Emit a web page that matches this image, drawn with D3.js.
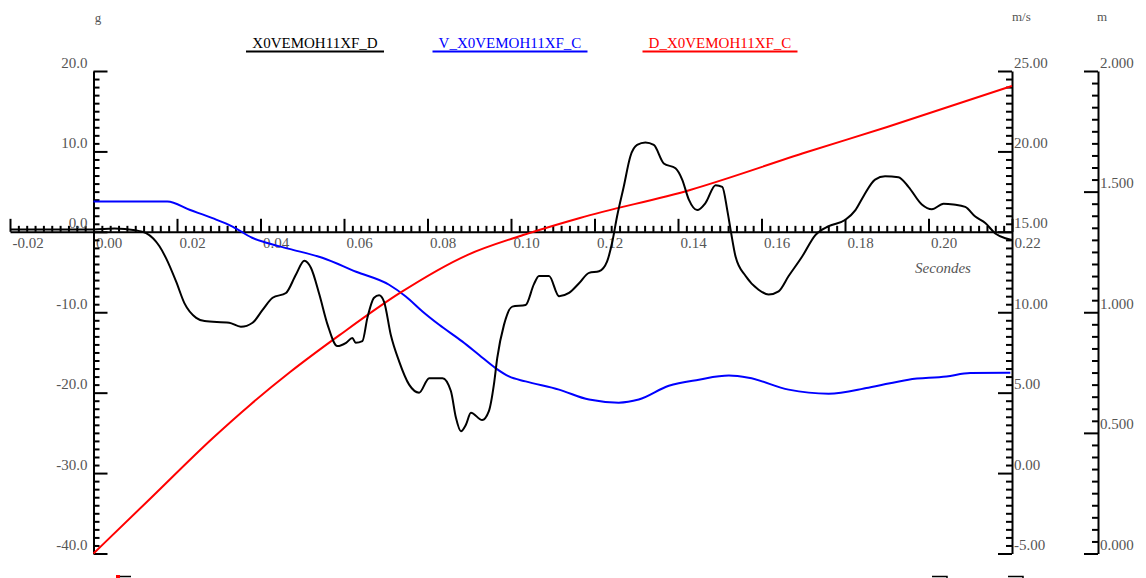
<!DOCTYPE html>
<html>
<head>
<meta charset="utf-8">
<script src="https://cdn.jsdelivr.net/npm/d3@7"></script>
<style>
  html, body { margin: 0; padding: 0; background: #fff; }
  svg { display: block; }
  text { font-family: "Liberation Serif", "DejaVu Serif", serif; }
</style>
</head>
<body>
<svg id="chart" width="1146" height="578"></svg>
<script>
// ---- data ----
const seriesNames = ["X0VEMOH11XF_D", "V_X0VEMOH11XF_C", "D_X0VEMOH11XF_C"];
const unitLabels = ["g", "m/s", "m"];
const xLabel = "Secondes";

const xTicks = [-0.02, 0.00, 0.02, 0.04, 0.06, 0.08, 0.10, 0.12, 0.14, 0.16, 0.18, 0.20, 0.22];
const gTicks = [-40, -30, -20, -10, 0, 10, 20];
const vTicks = [-5, 0, 5, 10, 15, 20, 25];
const dTicks = [0, 0.5, 1.0, 1.5, 2.0];

const accelTime = [-0.020, -0.010, 0.000, 0.005, 0.010, 0.0126, 0.0158, 0.0174, 0.0198, 0.0218, 0.0246, 0.0266, 0.0325, 0.0353, 0.0381, 0.0405, 0.0429, 0.0461, 0.0485, 0.0505, 0.0521, 0.0541, 0.0561, 0.0584, 0.0605, 0.0620, 0.0628, 0.0644, 0.0656, 0.0672, 0.0684, 0.0696, 0.0712, 0.0732, 0.0756, 0.0780, 0.0804, 0.0836, 0.0856, 0.0868, 0.0880, 0.0892, 0.0904, 0.0931, 0.0947, 0.0959, 0.0967, 0.0983, 0.1003, 0.1035, 0.1055, 0.1067, 0.1091, 0.1115, 0.1139, 0.1163, 0.1187, 0.1211, 0.1230, 0.1242, 0.1254, 0.1270, 0.1286, 0.1302, 0.1322, 0.1342, 0.1366, 0.1394, 0.1410, 0.1426, 0.1446, 0.1466, 0.1490, 0.1506, 0.1518, 0.1526, 0.1538, 0.1562, 0.1593, 0.1617, 0.1641, 0.1665, 0.1697, 0.1729, 0.1761, 0.1801, 0.1825, 0.1844, 0.1872, 0.1896, 0.1928, 0.1952, 0.1984, 0.2008, 0.2036, 0.2060, 0.2088, 0.2112, 0.2136, 0.2160, 0.2184, 0.2200];
const accelValues = [0.3, 0.3, 0.3, 0.4, 0.2, -0.16, -1.8, -3.3, -6.2, -8.9, -10.7, -11.1, -11.3, -11.8, -11.3, -9.7, -8.2, -7.6, -5.3, -3.6, -4.5, -7.8, -11.6, -14.2, -13.8, -13.2, -13.8, -13.6, -10.7, -8.2, -7.9, -8.7, -12.8, -16.1, -19.0, -20.0, -18.2, -18.2, -19.8, -23.1, -24.8, -24.0, -22.5, -23.4, -22.3, -19.0, -15.7, -11.6, -9.3, -9.1, -6.5, -5.5, -5.5, -8.0, -7.6, -6.4, -5.1, -4.9, -3.7, -1.4, 1.9, 5.6, 9.4, 10.8, 11.1, 10.8, 8.5, 7.9, 6.5, 4.0, 2.7, 3.6, 5.8, 5.6, 2.7, 0.25, -3.1, -5.5, -7.2, -7.8, -7.4, -5.5, -3.1, -0.4, 0.7, 1.5, 2.7, 4.4, 6.5, 6.9, 6.8, 5.6, 3.4, 2.8, 3.5, 3.4, 3.1, 1.9, 1.1, -0.2, -0.8, -1.0];

const velTime = [0, 0.0177, 0.0230, 0.0285, 0.0333, 0.0380, 0.0414, 0.0469, 0.0548, 0.0629, 0.0708, 0.0748, 0.0788, 0.0828, 0.0883, 0.0923, 0.0963, 0.0995, 0.1035, 0.1115, 0.1187, 0.1258, 0.1306, 0.1378, 0.1450, 0.1522, 0.1569, 0.1665, 0.1761, 0.1856, 0.1952, 0.2043, 0.2100, 0.2196];
const velValues = [16.88, 16.88, 16.37, 15.85, 15.33, 14.63, 14.32, 13.94, 13.39, 12.52, 11.71, 10.98, 10.05, 9.22, 8.19, 7.36, 6.53, 6.01, 5.70, 5.19, 4.57, 4.38, 4.57, 5.43, 5.81, 6.06, 5.93, 5.19, 4.94, 5.31, 5.81, 6.01, 6.22, 6.24];

const dispTime = [0, 0.0135, 0.0286, 0.0375, 0.0471, 0.0590, 0.0734, 0.0895, 0.1029, 0.1165, 0.1429, 0.1709, 0.1901, 0.2200];
const dispValues = [0.0, 0.226, 0.479, 0.616, 0.752, 0.906, 1.080, 1.237, 1.320, 1.391, 1.507, 1.664, 1.768, 1.938];

// ---- layout ----
const svg = d3.select("#chart");
const plotTop = 71, plotBottom = 553.5;
const x = d3.scaleLinear().domain([-0.02, 0.22]).range([10, 1012]);
const yG = d3.scaleLinear().domain([-40, 20]).range([plotBottom, plotTop]);
const yV = d3.scaleLinear().domain([-5, 25]).range([plotBottom, plotTop]);
const yD = d3.scaleLinear().domain([0, 2]).range([plotBottom, plotTop]);
const leftX = x(0), rightX1 = 1012, rightX2 = 1098;

const labelColor = "#555";
const fontSize = 15;

function minorRange(lo, hi, step, majors) {
  const out = [];
  const n = Math.round((hi - lo) / step);
  for (let i = 0; i <= n; i++) {
    const v = lo + i * step;
    if (!majors.some(m => Math.abs(m - v) < step / 10)) out.push(v);
  }
  return out;
}

function styleAxis(g) {
  g.selectAll("path.domain").attr("stroke", "#000").attr("stroke-width", 2);
  g.selectAll(".tick line").attr("stroke", "#000").attr("stroke-width", 2);
  g.selectAll(".tick text").attr("fill", labelColor)
    .style("font-family", "'Liberation Serif', serif").style("font-size", fontSize + "px");
}

// x axis (minor then major)
svg.append("g").attr("transform", `translate(0,${yG(0)})`)
  .call(d3.axisBottom(x).tickValues(minorRange(-0.02, 0.22, 0.002, xTicks)).tickSizeInner(-6).tickSizeOuter(0).tickFormat(""))
  .call(g => { g.select("path.domain").remove(); styleAxis(g); });
svg.append("g").attr("transform", `translate(0,${yG(0)})`)
  .call(d3.axisBottom(x).tickValues(xTicks).tickSizeInner(-13).tickSizeOuter(0).tickPadding(6)
    .tickFormat(d => d.toFixed(2)))
  .call(g => { styleAxis(g); g.selectAll(".tick text").attr("text-anchor", "start").attr("x", 2); });

// left axis (g)
svg.append("g").attr("transform", `translate(${leftX},0)`)
  .call(d3.axisLeft(yG).tickValues(minorRange(-40, 20, 1, gTicks)).tickSizeInner(-6).tickSizeOuter(0).tickFormat(""))
  .call(g => { g.select("path.domain").remove(); styleAxis(g); });
svg.append("g").attr("transform", `translate(${leftX},0)`)
  .call(d3.axisLeft(yG).tickValues(gTicks).tickSizeInner(-14).tickSizeOuter(0).tickPadding(6)
    .tickFormat(d => d.toFixed(1)))
  .call(g => { styleAxis(g); g.selectAll(".tick text").attr("dy", -4); });

// right axis 1 (m/s)
svg.append("g").attr("transform", `translate(${rightX1},0)`)
  .call(d3.axisRight(yV).tickValues(minorRange(-5, 25, 0.5, vTicks)).tickSizeInner(-6).tickSizeOuter(0).tickFormat(""))
  .call(g => { g.select("path.domain").remove(); styleAxis(g); });
svg.append("g").attr("transform", `translate(${rightX1},0)`)
  .call(d3.axisRight(yV).tickValues(vTicks).tickSizeInner(-14).tickSizeOuter(0).tickPadding(2)
    .tickFormat(d => d.toFixed(2)))
  .call(g => { styleAxis(g); g.selectAll(".tick text").attr("dy", -4); });

// right axis 2 (m)
svg.append("g").attr("transform", `translate(${rightX2},0)`)
  .call(d3.axisRight(yD).tickValues(minorRange(0, 2, 0.05, dTicks)).tickSizeInner(-6).tickSizeOuter(0).tickFormat(""))
  .call(g => { g.select("path.domain").remove(); styleAxis(g); });
svg.append("g").attr("transform", `translate(${rightX2},0)`)
  .call(d3.axisRight(yD).tickValues(dTicks).tickSizeInner(-14).tickSizeOuter(0).tickPadding(2)
    .tickFormat(d => d.toFixed(3)))
  .call(g => { styleAxis(g); g.selectAll(".tick text").attr("dy", -4); });

// unit labels
svg.append("text").attr("x", 98).attr("y", 22).attr("text-anchor", "middle")
  .attr("fill", labelColor).style("font-size", "13px").text(unitLabels[0]);
svg.append("text").attr("x", 1012).attr("y", 21).attr("text-anchor", "start")
  .attr("fill", labelColor).style("font-size", "13px").text(unitLabels[1]);
svg.append("text").attr("x", 1097).attr("y", 21).attr("text-anchor", "start")
  .attr("fill", labelColor).style("font-size", "13px").text(unitLabels[2]);

// x axis title
svg.append("text").attr("x", 943).attr("y", 273).attr("text-anchor", "middle")
  .attr("fill", labelColor).style("font-size", "15px").style("font-style", "italic").text(xLabel);

// series
const colors = ["#000000", "#0000ff", "#ff0000"];
const accelData = accelTime.map((t, i) => [t, accelValues[i]]);
const velData = velTime.map((t, i) => [t, velValues[i]]);
const dispData = dispTime.map((t, i) => [t, dispValues[i]]);

svg.append("path").datum(velData)
  .attr("fill", "none").attr("stroke", colors[1]).attr("stroke-width", 2)
  .attr("d", d3.line().x(d => x(d[0])).y(d => yV(d[1])).curve(d3.curveMonotoneX));
svg.append("path").datum(dispData)
  .attr("fill", "none").attr("stroke", colors[2]).attr("stroke-width", 2)
  .attr("d", d3.line().x(d => x(d[0])).y(d => yD(d[1])).curve(d3.curveMonotoneX));
svg.append("path").datum(accelData)
  .attr("fill", "none").attr("stroke", colors[0]).attr("stroke-width", 2)
  .attr("d", d3.line().x(d => x(d[0])).y(d => yG(d[1])).curve(d3.curveMonotoneX));

// legend
const legendCenters = [315, 510, 720];
const legendWidths = [138, 155, 155];
seriesNames.forEach((name, i) => {
  svg.append("text").attr("x", legendCenters[i]).attr("y", 48).attr("text-anchor", "middle")
    .attr("fill", colors[i]).style("font-size", "15px").text(name);
  svg.append("line")
    .attr("x1", legendCenters[i] - legendWidths[i] / 2).attr("x2", legendCenters[i] + legendWidths[i] / 2)
    .attr("y1", 51.5).attr("y2", 51.5).attr("stroke", colors[i]).attr("stroke-width", 2);
});

// bottom cursor markers
svg.append("rect").attr("x", 116).attr("y", 575).attr("width", 4).attr("height", 3).attr("fill", "#ff0000");
svg.append("line").attr("x1", 120).attr("x2", 131).attr("y1", 576.5).attr("y2", 576.5).attr("stroke", "#000").attr("stroke-width", 1.5);
[[932, 947], [1008, 1023]].forEach(([a, b]) => {
  svg.append("path").attr("d", `M${a},576.5H${b}V578`).attr("fill", "none").attr("stroke", "#000").attr("stroke-width", 1.5);
});
</script>
</body>
</html>
